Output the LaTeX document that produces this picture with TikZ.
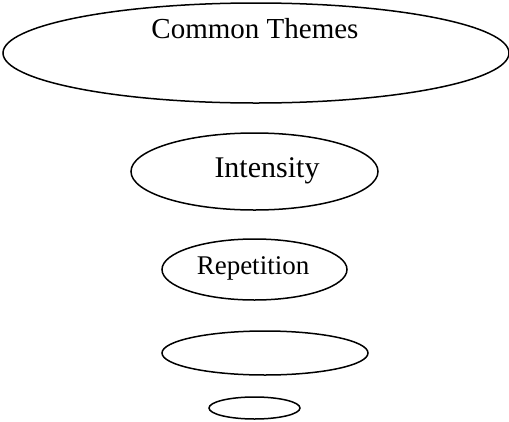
\documentclass[tikz,border=0pt]{standalone}
\usepackage{fontspec}
\setmainfont{Liberation Serif}
\usetikzlibrary{shapes.geometric}
\begin{document}
\begin{tikzpicture}[x=1pt,y=-1pt,
  oval/.style={draw,ellipse,line width=1.5pt,inner sep=0pt},
  lbl/.style={inner sep=0pt}]
\useasboundingbox (0,0) rectangle (509,421);
\begin{scope}
\clip (0,0) rectangle (509,421);
\node[oval,minimum width=506pt,minimum height=100pt] (e1) at (256,53) {};
\end{scope}
\node[lbl,font=\fontsize{29}{34}\selectfont] (t1) at (255,29) {Common Themes};
\node[oval,minimum width=247pt,minimum height=77pt] (e2) at (254.5,171.5) {};
\node[lbl,font=\fontsize{30}{35}\selectfont] (t2) at (267,171) {Intensity};
\node[oval,minimum width=185pt,minimum height=61pt] (e3) at (254.5,269.5) {};
\node[lbl,font=\fontsize{27}{32}\selectfont] (t3) at (253,268) {Repetition};
\node[oval,minimum width=206pt,minimum height=44pt] (e4) at (265,353) {};
\node[oval,minimum width=91pt,minimum height=22pt] (e5) at (254.5,408) {};
\end{tikzpicture}
\end{document}
